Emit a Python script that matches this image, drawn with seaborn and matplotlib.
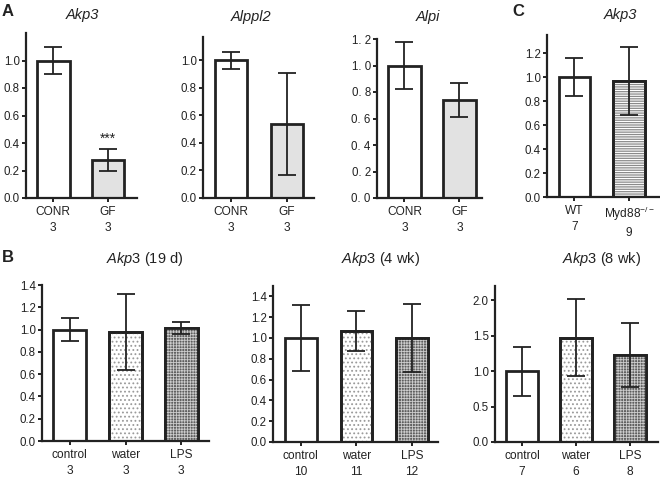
import numpy as np
import pandas as pd
import matplotlib
matplotlib.use("Agg")
import matplotlib.pyplot as plt
from matplotlib.patches import Rectangle
import seaborn as sns

# ---------------- data ----------------
a_groups = ["CONR", "GF"]
a_n = [3, 3]
akp3_a_mean = [1.0, 0.28]
akp3_a_sem = [0.095, 0.08]
alppl2_mean = [1.0, 0.535]
alppl2_sem = [0.06, 0.37]
alpi_mean = [1.0, 0.74]
alpi_sem = [0.18, 0.125]

c_groups = ["WT", "Myd88$^{-/-}$"]
c_n = [7, 9]
c_mean = [1.0, 0.965]
c_sem = [0.16, 0.285]

b_groups = ["control", "water", "LPS"]
b19_n = [3, 3, 3]
b19_mean = [1.0, 0.98, 1.015]
b19_sem = [0.10, 0.34, 0.055]
b4_n = [10, 11, 12]
b4_mean = [1.0, 1.065, 1.0]
b4_sem = [0.32, 0.19, 0.33]
b8_n = [7, 6, 8]
b8_mean = [1.0, 1.47, 1.23]
b8_sem = [0.345, 0.54, 0.45]

# ---------------- style ----------------
sns.set_style("ticks")
plt.rcParams['font.family'] = ['Liberation Sans', 'DejaVu Sans']
plt.rcParams['mathtext.fontset'] = 'custom'
plt.rcParams['mathtext.rm'] = 'Liberation Sans'
plt.rcParams['mathtext.it'] = 'Liberation Sans:italic'

W, H = 660, 480
fig = plt.figure(figsize=(6.6, 4.8), dpi=100)

def make_ax(left, right, top, bottom):
    return fig.add_axes([left / W, 1 - bottom / H, (right - left) / W, (bottom - top) / H])

def panel(ax, groups, ns, means, sems, colors, hatches, hatchcolors, hatchlw,
          ylim, yticks, xright, width=0.6, ylabels=None):
    labels = [f"{g}\n{n}" for g, n in zip(groups, ns)]
    df = pd.DataFrame({"group": labels, "value": means})
    sns.barplot(data=df, x="group", y="value", ax=ax, errorbar=None,
                palette=colors, hue="group", legend=False,
                edgecolor="#222222", linewidth=2.0, width=width, zorder=2)
    bars = list(ax.patches)
    for p, h, hc, hl in zip(bars, hatches, hatchcolors, hatchlw):
        if h:
            plt.rcParams['hatch.linewidth'] = hl
            ax.add_patch(Rectangle(p.get_xy(), p.get_width(), p.get_height(),
                                   fill=False, hatch=h, edgecolor=hc, lw=0, zorder=2.5))
            ax.add_patch(Rectangle(p.get_xy(), p.get_width(), p.get_height(),
                                   fill=False, edgecolor="#222222", lw=2.0, zorder=2.6))
    ax.errorbar(np.arange(len(means)), means, yerr=sems, fmt="none",
                ecolor="#222222", elinewidth=1.3, capsize=6.5, capthick=1.3, zorder=3)
    ax.set_ylim(*ylim)
    ax.set_xlim(-0.5, xright)
    ax.set_yticks(yticks)
    if ylabels is not None:
        ax.set_yticklabels(ylabels)
    else:
        ax.set_yticklabels([f"{t:.1f}" for t in yticks])
    ax.set_xlabel("")
    ax.set_ylabel("")
    for s in ["top", "right"]:
        ax.spines[s].set_visible(False)
    for s in ["left", "bottom"]:
        ax.spines[s].set_linewidth(1.6)
        ax.spines[s].set_color("#222222")
    ax.tick_params(axis="y", labelsize=8.3, length=3, width=1.4, pad=1.5, colors="#222222")
    ax.tick_params(axis="x", labelsize=8.6, length=3, width=1.4, pad=2.5, colors="#222222")
    for lab in ax.get_xticklabels():
        lab.set_linespacing(1.45)
    return ax

white = "#ffffff"
lgray = "#e2e2e2"
dgray = "#5e5e5e"

# Panel A
ax1 = make_ax(26, 137, 33, 198)
panel(ax1, a_groups, a_n, akp3_a_mean, akp3_a_sem, [white, lgray], [None, None], [None, None], [1, 1],
      (0, 1.2), [0, 0.2, 0.4, 0.6, 0.8, 1.0], 1.53)
ax1.text(1, akp3_a_mean[1] + akp3_a_sem[1] + 0.02, "***", ha="center", va="bottom", fontsize=10, color="#222222")

ax2 = make_ax(203, 314, 37, 198)
panel(ax2, a_groups, a_n, alppl2_mean, alppl2_sem, [white, lgray], [None, None], [None, None], [1, 1],
      (0, 1.17), [0, 0.2, 0.4, 0.6, 0.8, 1.0], 1.48, width=0.58)

ax3 = make_ax(377, 482, 39, 198)
panel(ax3, a_groups, a_n, alpi_mean, alpi_sem, [white, lgray], [None, None], [None, None], [1, 1],
      (0, 1.2), [0, 0.2, 0.4, 0.6, 0.8, 1.0, 1.2], 1.41,
      ylabels=["0. 0", "0. 2", "0. 4", "0. 6", "0. 8", "1. 0", "1. 2"])

# Panel C
axc = make_ax(547, 660, 35, 197)
panel(axc, c_groups, c_n, c_mean, c_sem, [white, white], [None, "-------"], [None, "#8a8a8a"], [1, 0.9],
      (0, 1.35), [0, 0.2, 0.4, 0.6, 0.8, 1.0, 1.2], 1.56, width=0.58)

# Panel B
bcolors = [white, white, dgray]
bhatch = [None, "....", "++++++"]
bhc = [None, "#9a9a9a", "#cccccc"]
bhl = [1, 0.8, 0.6]
axb1 = make_ax(42, 209, 285, 441)
panel(axb1, b_groups, b19_n, b19_mean, b19_sem, bcolors, bhatch, bhc, bhl,
      (0, 1.4), [0, 0.2, 0.4, 0.6, 0.8, 1.0, 1.2, 1.4], 2.5, width=0.59)
axb2 = make_ax(273, 438, 286, 442)
panel(axb2, b_groups, b4_n, b4_mean, b4_sem, bcolors, bhatch, bhc, bhl,
      (0, 1.5), [0, 0.2, 0.4, 0.6, 0.8, 1.0, 1.2, 1.4], 2.47, width=0.57)
axb3 = make_ax(495, 658, 286, 442)
panel(axb3, b_groups, b8_n, b8_mean, b8_sem, bcolors, bhatch, bhc, bhl,
      (0, 2.2), [0, 0.5, 1.0, 1.5, 2.0], 2.52, width=0.58)

# Titles
def ftext(x, y, s, **kw):
    fig.text(x / W, 1 - y / H, s, **kw)

tkw = dict(ha="center", va="center", fontsize=10.5, color="#222222")
ftext(82, 15, "Akp3", style="italic", **tkw)
ftext(251, 17, "Alppl2", style="italic", **tkw)
ftext(428, 17, "Alpi", style="italic", **tkw)
ftext(620, 15, "Akp3", style="italic", **tkw)
ftext(145, 259, r"$\mathit{Akp3}$ (19 d)", **tkw)
ftext(381, 259, r"$\mathit{Akp3}$ (4 wk)", **tkw)
ftext(602, 259, r"$\mathit{Akp3}$ (8 wk)", **tkw)

# Panel letters
lkw = dict(ha="left", va="center", fontsize=12, fontweight="bold", color="#222222")
ftext(2, 12, "A", **lkw)
ftext(2, 258, "B", **lkw)
ftext(512, 12, "C", **lkw)

fig.savefig("out.png", dpi=100)
